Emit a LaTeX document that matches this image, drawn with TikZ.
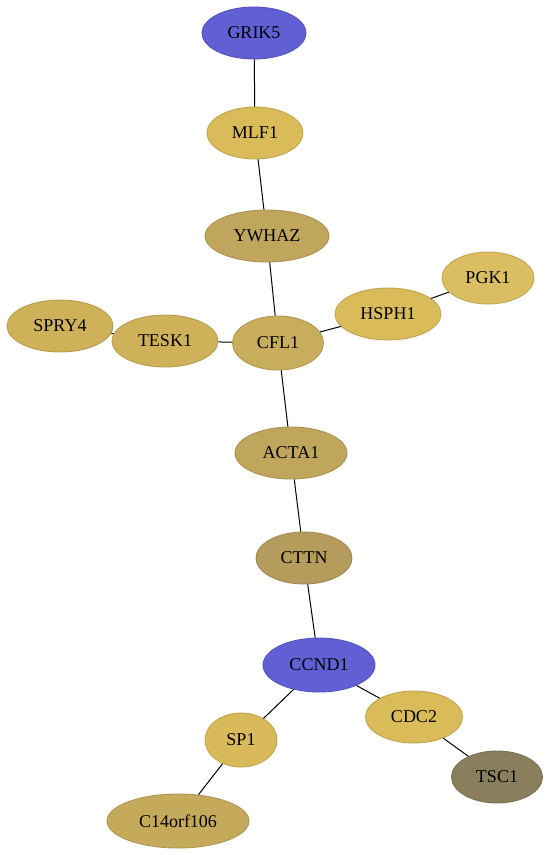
\documentclass[tikz,border=0pt]{standalone}
\usepackage{fontspec}
\setmainfont{Liberation Serif}
\usepackage{xcolor}
\usetikzlibrary{shapes.geometric}

\definecolor{blueA}{HTML}{6060D4}
\definecolor{goldA}{HTML}{D9BB5A}
\definecolor{goldB}{HTML}{CFB15A}
\definecolor{goldC}{HTML}{C8AD5C}
\definecolor{goldD}{HTML}{C0A55C}
\definecolor{goldE}{HTML}{B59C5C}
\definecolor{goldF}{HTML}{C5AA5C}
\definecolor{olive}{HTML}{8A7E5C}

\tikzset{
    gene/.style={ellipse, draw=#1!88!black, fill=#1, line width=0.9pt,
        inner sep=0pt, font=\fontsize{18}{20}\selectfont},
    link/.style={line width=1pt, black}
}

\begin{document}
\begin{tikzpicture}[x=1pt, y=-1pt]
        \useasboundingbox (0,0) rectangle (549,855);

        \node[gene=blueA, minimum width=104, minimum height=52] (grik5) at (254, 33) {GRIK5};
        \node[gene=goldA, minimum width=96, minimum height=52] (mlf1) at (255, 133) {MLF1};
        \node[gene=goldD, minimum width=124, minimum height=52] (ywhaz) at (267, 236) {YWHAZ};
        \node[gene=goldC, minimum width=91, minimum height=54] (cfl1) at (278, 343) {CFL1};
        \node[gene=goldB, minimum width=106, minimum height=52] (tesk1) at (165, 341) {TESK1};
        \node[gene=goldB, minimum width=106, minimum height=52] (spry4) at (60, 326) {SPRY4};
        \node[gene=goldA, minimum width=106, minimum height=52] (hsph1) at (388, 314) {HSPH1};
        \node[gene=goldA!95!white, minimum width=92, minimum height=52] (pgk1) at (488, 278) {PGK1};
        \node[gene=goldD, minimum width=112, minimum height=52] (acta1) at (291, 453) {ACTA1};
        \node[gene=goldE, minimum width=96, minimum height=52] (cttn) at (304, 558) {CTTN};
        \node[gene=blueA, minimum width=112, minimum height=54] (ccnd1) at (319, 665) {CCND1};
        \node[gene=goldA, minimum width=97, minimum height=52] (cdc2) at (414, 717) {CDC2};
        \node[gene=goldA!90!goldB, minimum width=72, minimum height=54] (sp1) at (241, 740) {SP1};
        \node[gene=olive, minimum width=91, minimum height=52] (tsc1) at (497, 777) {TSC1};
        \node[gene=goldF, minimum width=142, minimum height=54] (c14orf106) at (178, 821) {C14orf106};

        \draw[link] (grik5) -- (mlf1);
        \draw[link] (mlf1) -- (ywhaz);
        \draw[link] (ywhaz) -- (cfl1);
        \draw[link] (cfl1) -- (tesk1);
        \draw[link] (tesk1) -- (spry4);
        \draw[link] (cfl1) -- (hsph1);
        \draw[link] (hsph1) -- (pgk1);
        \draw[link] (cfl1) -- (acta1);
        \draw[link] (acta1) -- (cttn);
        \draw[link] (cttn) -- (ccnd1);
        \draw[link] (ccnd1) -- (sp1);
        \draw[link] (ccnd1) -- (cdc2);
        \draw[link] (sp1) -- (c14orf106);
        \draw[link] (cdc2) -- (tsc1);
    \end{tikzpicture}
\end{document}
